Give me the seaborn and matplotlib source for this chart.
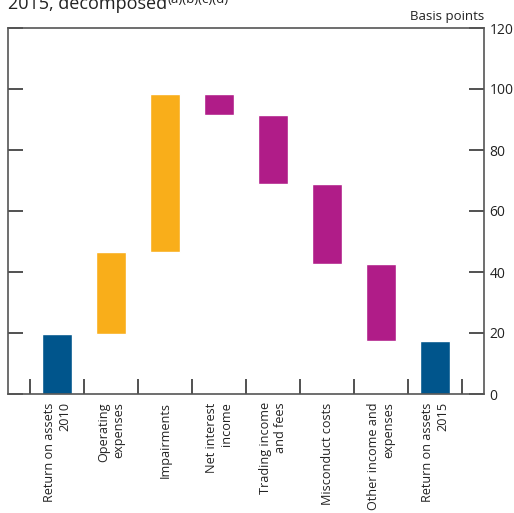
import numpy as np
import pandas as pd
import seaborn as sns
import matplotlib.pyplot as plt

sns.set_style("white")
plt.rcParams['font.family'] = ['Open Sans', 'DejaVu Sans']

# Waterfall data (basis points)
categories = ["Return on assets\n2010", "Operating\nexpenses", "Impairments",
              "Net interest\nincome", "Trading income\nand fees", "Misconduct costs",
              "Other income and\nexpenses", "Return on assets\n2015"]
bottoms = [0, 19.6, 46.6, 91.6, 68.9, 42.6, 17.4, 0]
tops = [19.6, 46.6, 98.4, 98.4, 91.6, 68.9, 42.6, 17.4]
groups = ["roa", "cost", "cost", "income", "income", "income", "income", "roa"]
y_ticks = [0, 20, 40, 60, 80, 100, 120]

palette = {"roa": "#00558C", "cost": "#F9AE1A", "income": "#B01C88"}

df = pd.DataFrame({"cat": categories, "bottom": bottoms, "top": tops, "group": groups})
df["height"] = df["top"] - df["bottom"]

fig = plt.figure(figsize=(5.14, 5.13), dpi=100)
ax = fig.add_axes([8 / 514, 119 / 513, 476 / 514, 366 / 513])

for grp, sub in df.groupby("group", sort=False):
    sns.barplot(data=sub, x="cat", y="height", bottom=sub["bottom"].values,
                order=categories, color=palette[grp], saturation=1,
                width=0.54, errorbar=None, ax=ax)

ax.set_xlim(-0.907, 7.907)
ax.set_ylim(0, 120)
ax.set_xlabel("")
ax.set_ylabel("")

# spines
for s in ax.spines.values():
    s.set_visible(True)
    s.set_color("#555555")
    s.set_linewidth(1.2)

# y axis: ticks inward on both sides, labels on the right
ax.set_yticks(y_ticks)
ax.tick_params(axis="y", left=True, right=True, labelleft=False, labelright=True,
               direction="in", length=11, width=1.2, color="#333333",
               labelsize=10, pad=4, labelcolor="#222222")

# x axis: boundary ticks (minor, inward), labels at centres (major, no tick)
ax.set_xticks(np.arange(len(categories)))
ax.set_xticklabels(categories, rotation=90, multialignment="right",
                   fontsize=9.1, color="#222222")
ax.set_xticks(np.arange(len(categories) + 1) - 0.5, minor=True)
ax.tick_params(axis="x", which="major", length=0, pad=6)
ax.tick_params(axis="x", which="minor", bottom=True, direction="in",
               length=10.5, width=1.2, color="#333333")

fig.text(484 / 514, 1 - 20 / 513, "Basis points", ha="right", va="baseline",
         fontsize=9.5, color="#222222")

title = fig.text(8 / 514, 1 - 9 / 513, "2015, decomposed", ha="left", va="baseline",
                 fontsize=13, color="#222222")
ax.annotate("(a)(b)(c)(d)", xy=(1, 0.55), xycoords=title, ha="left", va="baseline",
            fontsize=9.6, color="#222222", annotation_clip=False)

fig.savefig("out.png", dpi=100)
